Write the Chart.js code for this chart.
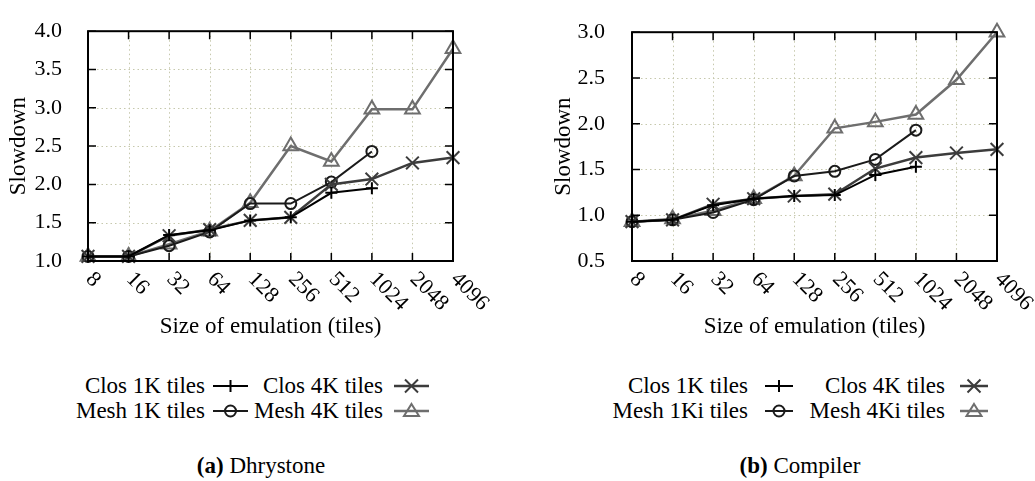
<!DOCTYPE html>
<html><head><meta charset="utf-8">
<script src="https://cdn.jsdelivr.net/npm/chart.js@4.4.1/dist/chart.umd.min.js"></script>
<style>
body{margin:0;background:#fff;width:1035px;height:481px;position:relative;overflow:hidden;font-family:"Liberation Serif",serif;color:#000}
canvas{position:absolute;top:0}
.lt{position:absolute;font-size:23px;line-height:30px;height:30px;white-space:nowrap;text-align:right}
.sw{position:absolute}
.cap{position:absolute;font-size:23px;line-height:30px;white-space:nowrap;transform:translateX(-50%)}
</style></head><body>
<canvas id="c1" width="517" height="345" style="left:0px"></canvas>
<canvas id="c2" width="518" height="345" style="left:517px"></canvas>
<div id="legends"></div>
<div class="cap" style="left:261px;top:451px"><b>(a)</b> Dhrystone</div>
<div class="cap" style="left:800px;top:451px"><b>(b)</b> Compiler</div>
<script>
// ---- data ----
const sizes = ['8','16','32','64','128','256','512','1024','2048','4096'];

const dhryClos1K = [1.06,1.06,1.34,1.40,1.53,1.57,1.89,1.95,null,null];
const dhryClos4K = [1.06,1.06,1.33,1.41,1.53,1.57,2.00,2.07,2.28,2.35];
const dhryMesh1K = [1.06,1.06,1.20,1.38,1.75,1.75,2.03,2.43,null,null];
const dhryMesh4K = [1.06,1.06,1.22,1.39,1.76,2.50,2.30,2.98,2.98,3.77];

const compClos1K = [0.93,0.95,1.11,1.18,1.21,1.22,1.44,1.53,null,null];
const compClos4K = [0.93,0.95,1.12,1.18,1.21,1.23,1.51,1.63,1.68,1.72];
const compMesh1K = [0.93,0.95,1.03,1.17,1.43,1.48,1.61,1.93,null,null];
const compMesh4K = [0.93,0.96,1.05,1.18,1.43,1.95,2.02,2.10,2.48,3.00];

const dhryNames = ['Clos 1K tiles','Clos 4K tiles','Mesh 1K tiles','Mesh 4K tiles'];
const compNames = ['Clos 1K tiles','Clos 4K tiles','Mesh 1Ki tiles','Mesh 4Ki tiles'];

const dhryYTicks = {min:1.0, max:4.0, step:0.5};
const compYTicks = {min:0.5, max:3.0, step:0.5};

// ---- styles ----
const styles = [
  {color:'#000000', width:2,   point:'cross',    r:6},
  {color:'#3c3c3c', width:2.5, point:'crossRot', r:9},
  {color:'#1a1a1a', width:2,   point:'circle',   r:5.5},
  {color:'#6e6e6e', width:2.5, point:'triangle', r:8.5}
];
const FONT = '"Liberation Serif", serif';

const framePlugin = {
  id:'frame',
  beforeDatasetsDraw(chart){
    const {ctx, chartArea:a, scales:{x,y}} = chart;
    ctx.save();
    ctx.strokeStyle = '#c6c8ad';
    ctx.lineWidth = 1;
    ctx.setLineDash([1.5,3]);
    y.ticks.forEach(t=>{
      const py = Math.round(y.getPixelForValue(t.value))+0.5;
      ctx.beginPath(); ctx.moveTo(a.left,py); ctx.lineTo(a.right,py); ctx.stroke();
    });
    chart.data.labels.forEach((l,i)=>{
      const px = Math.round(x.getPixelForValue(i))+0.5;
      ctx.beginPath(); ctx.moveTo(px,a.top); ctx.lineTo(px,a.bottom); ctx.stroke();
    });
    ctx.restore();
  },
  afterDatasetsDraw(chart){
    const {ctx, chartArea:a, scales:{x,y}} = chart;
    ctx.save();
    ctx.strokeStyle = '#000';
    ctx.lineWidth = 1.5;
    const T = 8;
    y.ticks.forEach(t=>{
      const py = y.getPixelForValue(t.value);
      ctx.beginPath(); ctx.moveTo(a.left,py); ctx.lineTo(a.left+T,py);
      ctx.moveTo(a.right,py); ctx.lineTo(a.right-T,py); ctx.stroke();
    });
    chart.data.labels.forEach((l,i)=>{
      const px = x.getPixelForValue(i);
      ctx.beginPath(); ctx.moveTo(px,a.bottom); ctx.lineTo(px,a.bottom-T);
      ctx.moveTo(px,a.top); ctx.lineTo(px,a.top+T); ctx.stroke();
    });
    ctx.lineWidth = 2;
    ctx.strokeRect(a.left, a.top, a.right-a.left, a.bottom-a.top);
    // rotated x tick labels
    ctx.fillStyle = '#000';
    ctx.font = '22px ' + FONT;
    ctx.textAlign = 'left';
    ctx.textBaseline = 'middle';
    chart.data.labels.forEach((l,i)=>{
      const px = x.getPixelForValue(i);
      ctx.save();
      ctx.translate(px+1, a.bottom+15);
      ctx.rotate(Math.PI/4);
      ctx.fillText(l,0,0);
      ctx.restore();
    });
    ctx.restore();
  }
};

function makeChart(id, series, names, yt, yAxisW, rightPad, tickPad, titlePad){
  return new Chart(document.getElementById(id), {
    type:'line',
    data:{
      labels:sizes,
      datasets:series.map((d,i)=>({
        label:names[i], data:d,
        borderColor:styles[i].color, borderWidth:styles[i].width,
        pointStyle:styles[i].point, pointRadius:styles[i].r,
        pointBorderColor:styles[i].color, pointBorderWidth:2,
        pointBackgroundColor:'rgba(0,0,0,0)',
        tension:0, spanGaps:false, clip:false
      }))
    },
    options:{
      responsive:false, animation:false, devicePixelRatio:1,
      layout:{padding:{left:0,right:rightPad,top:16,bottom:0}},
      plugins:{legend:{display:false},tooltip:{enabled:false}},
      scales:{
        x:{
          offset:false,
          grid:{display:false},
          border:{display:false},
          ticks:{display:false},
          afterFit(s){ s.height = 84; },
          title:{display:true,text:'Size of emulation (tiles)',color:'#000',
                 font:{family:FONT,size:23},padding:{top:0,bottom:4}}
        },
        y:{
          min:yt.min, max:yt.max,
          grid:{display:false},
          border:{display:false},
          ticks:{stepSize:yt.step,color:'#000',padding:tickPad,
                 font:{family:FONT,size:22},
                 callback:v=>Number(v).toFixed(1)},
          afterFit(s){ s.width = yAxisW; },
          title:{display:true,text:'Slowdown',color:'#000',
                 font:{family:FONT,size:23},padding:{top:titlePad,bottom:0}}
        }
      }
    },
    plugins:[framePlugin]
  });
}

makeChart('c1',[dhryClos1K,dhryClos4K,dhryMesh1K,dhryMesh4K],dhryNames,dhryYTicks,88,64,18,5);
makeChart('c2',[compClos1K,compClos4K,compMesh1K,compMesh4K],compNames,compYTicks,115,38,19,33);

// ---- legends (HTML) ----
function sampleSVG(st, w){
  const h=24, cy=12, cx=w/2, c=st.color;
  let m='';
  if(st.point==='cross') m=`<path d="M${cx-6} ${cy}H${cx+6}M${cx} ${cy-6}V${cy+6}" stroke="${c}" stroke-width="2" fill="none"/>`;
  if(st.point==='crossRot') m=`<path d="M${cx-6.5} ${cy-6.5}L${cx+6.5} ${cy+6.5}M${cx-6.5} ${cy+6.5}L${cx+6.5} ${cy-6.5}" stroke="${c}" stroke-width="2" fill="none"/>`;
  if(st.point==='circle') m=`<circle cx="${cx}" cy="${cy}" r="5.5" stroke="${c}" stroke-width="2" fill="none"/>`;
  if(st.point==='triangle') m=`<path d="M${cx} ${cy-7}L${cx+7.5} ${cy+5}L${cx-7.5} ${cy+5}Z" stroke="${c}" stroke-width="2" fill="none"/>`;
  return `<svg width="${w}" height="${h}"><line x1="0" y1="${cy}" x2="${w}" y2="${cy}" stroke="${c}" stroke-width="${st.width}"/>${m}</svg>`;
}
const legendHost = document.getElementById('legends');
function addLegend(names, textEnds, swStarts, swW){
  const rowsY = [386, 411];
  names.forEach((n,i)=>{
    const row = Math.floor(i/2), col = i%2;
    const t = document.createElement('div');
    t.className='lt';
    t.style.right = (1035 - textEnds[col]) + 'px';
    t.style.top = (rowsY[row]-15) + 'px';
    t.textContent = n;
    legendHost.appendChild(t);
    const s = document.createElement('div');
    s.className='sw';
    s.style.left = swStarts[col] + 'px';
    s.style.top = (rowsY[row]-12) + 'px';
    s.innerHTML = sampleSVG(styles[i], swW);
    legendHost.appendChild(s);
  });
}
addLegend(dhryNames,[205,383],[213,394],35);
addLegend(compNames,[748,945],[765,960],28);
</script>
</body></html>
